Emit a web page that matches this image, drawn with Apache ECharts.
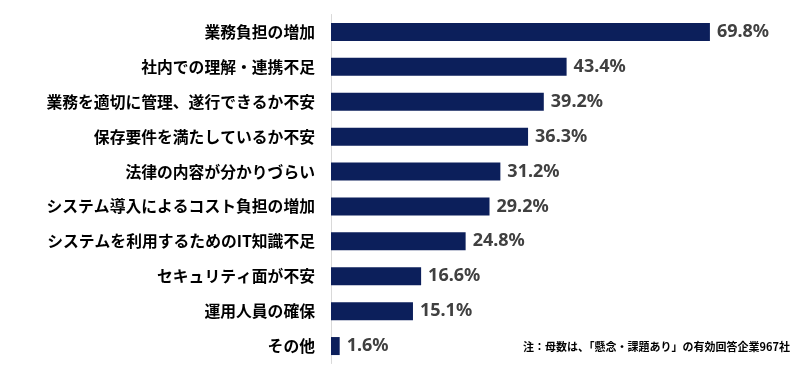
<!DOCTYPE html>
<html>
<head>
<meta charset="utf-8">
<script src="https://cdn.jsdelivr.net/npm/echarts@6/dist/echarts.min.js"></script>
<style>
  html, body { margin: 0; padding: 0; background: #fff; }
  #chart { width: 804px; height: 377px; }
</style>
</head>
<body>
<div id="chart"></div>
<script>
// 項目（上から順）
var categories = [
  '業務負担の増加',
  '社内での理解・連携不足',
  '業務を適切に管理、遂行できるか不安',
  '保存要件を満たしているか不安',
  '法律の内容が分かりづらい',
  'システム導入によるコスト負担の増加',
  'システムを利用するためのIT知識不足',
  'セキュリティ面が不安',
  '運用人員の確保',
  'その他'
];
// 割合（%）
var values = [69.8, 43.4, 39.2, 36.3, 31.2, 29.2, 24.8, 16.6, 15.1, 1.6];
var noteText = '注：母数は、「懸念・課題あり」の有効回答企業967社';

var myChart = echarts.init(document.getElementById('chart'));
var option = {
  backgroundColor: '#ffffff',
  animation: false,
  grid: {
    left: 331,
    right: 93,
    top: 14.5,
    bottom: 13.5
  },
  xAxis: {
    type: 'value',
    min: 0,
    max: 70,
    show: false
  },
  yAxis: {
    type: 'category',
    inverse: true,
    data: categories,
    axisLine: { show: true, lineStyle: { color: '#d9d9d9', width: 1 } },
    axisTick: { show: false },
    axisLabel: {
      margin: 16,
      color: '#000',
      fontSize: 15.8,
      fontWeight: 'bold',
      fontFamily: '"Noto Sans CJK JP", sans-serif'
    }
  },
  series: [{
    type: 'bar',
    data: values,
    barWidth: 18,
    itemStyle: { color: '#0c1f5b' },
    label: {
      show: true,
      position: 'right',
      distance: 7,
      formatter: function (p) { return p.value.toFixed(1) + '%'; },
      color: '#404040',
      fontSize: 18,
      fontWeight: 'bold',
      fontFamily: '"Noto Sans", sans-serif'
    }
  }],
  graphic: [{
    type: 'text',
    right: 14,
    top: 341,
    style: {
      text: noteText,
      fill: '#000',
      font: 'bold 11px "Noto Sans CJK JP", sans-serif'
    }
  }]
};
myChart.setOption(option);
window.addEventListener('resize', function () {
  myChart.resize();
});
</script>
</body>
</html>
